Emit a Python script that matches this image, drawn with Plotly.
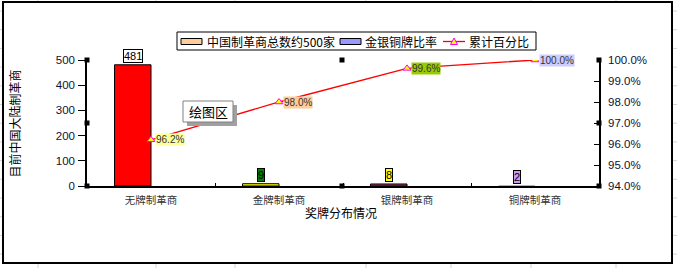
import plotly.graph_objects as go

# ---- data ----
categories = ["无牌制革商", "金牌制革商", "银牌制革商", "铜牌制革商"]
maker_counts = [481, 9, 8, 2]            # 中国制革商总数约500家
medal_ratio = [None, None, None, None]   # 金银铜牌比率 (no bars drawn)
cumulative_pct = [0.962, 0.980, 0.996, 1.000]
pct_labels = ["96.2%", "98.0%", "99.6%", "100.0%"]
left_ticks = [0, 100, 200, 300, 400, 500]
right_ticks = [0.94, 0.95, 0.96, 0.97, 0.98, 0.99, 1.00]

series_names = ["中国制革商总数约500家", "金银铜牌比率", "累计百分比"]
x_title = "奖牌分布情况"
y_title = "目前中国大陆制革商"

# ---- styles ----
bar_colors = ["#ff0000", "#ffff00", "#993366", "#cc99ff"]
bar_edge_widths = [1, 1, 1, 0]
count_label_bg = ["#ffffff", "#008000", "#ffff00", "#cc99ff"]
count_label_border = ["#000000", "#000000", "#000000", "#000000"]
pct_label_bg = ["#ffff99", "#ffcc99", "#99cc00", "#ccccff"]
legend_fill = ["#ffcc99", "#9999ff"]

W, H = 677, 268
PL, PR, PT, PB = 87, 599, 60, 186      # plot area in pixels
BARGAP = 0.43

FONT = "Liberation Sans, Arial, Noto Sans CJK SC, sans-serif"
CJK = "Noto Sans CJK SC, Liberation Sans, sans-serif"


def px(x):
    return (x - PL) / (PR - PL)


def py(y):
    return (PB - y) / (PB - PT)


fig = go.Figure()

fig.add_trace(go.Bar(
    x=categories, y=maker_counts, name=series_names[0],
    marker=dict(color=bar_colors, line=dict(color="#000000", width=bar_edge_widths)),
    showlegend=False, hoverinfo="x+y",
))
fig.add_trace(go.Bar(
    x=categories, y=medal_ratio, name=series_names[1],
    marker=dict(color=legend_fill[1], line=dict(color="#000000", width=1)),
    showlegend=False,
))
fig.add_trace(go.Scatter(
    x=categories, y=cumulative_pct, name=series_names[2], yaxis="y2",
    mode="lines+markers",
    line=dict(color="#ff0000", width=1.3),
    marker=dict(symbol="triangle-up", size=7, color="#ffff00",
                line=dict(color="#ff00ff", width=1)),
    showlegend=False,
))

annotations = []
shapes = []

# value labels above the first bar of each group
cat_px = (PR - PL) / len(categories)
bar_px = cat_px * (1 - BARGAP) / 2
for c, v, bg, bd in zip(categories, maker_counts, count_label_bg, count_label_border):
    annotations.append(dict(
        x=c, y=v, xref="x", yref="y", xshift=-bar_px / 2, yshift=2,
        text=str(v), showarrow=False, xanchor="center", yanchor="bottom",
        font=dict(family=FONT, size=11, color="#000000"),
        bgcolor=bg, bordercolor=bd, borderwidth=1, borderpad=0,
    ))

# cumulative percentage labels
for c, v, t, bg in zip(categories, cumulative_pct, pct_labels, pct_label_bg):
    annotations.append(dict(
        x=c, y=v, xref="x", yref="y2", xshift=4,
        text=t, showarrow=False, xanchor="left", yanchor="middle",
        font=dict(family=FONT, size=10, color="#333333"),
        bgcolor=bg, borderpad=0,
    ))

# axis titles
annotations.append(dict(
    x=px(14), y=py(123.5), xref="paper", yref="paper", text=y_title,
    textangle=-90, showarrow=False, xanchor="center", yanchor="middle",
    font=dict(family=CJK, size=12, color="#000000"),
))
annotations.append(dict(
    x=px(340.5), y=py(212), xref="paper", yref="paper", text=x_title,
    showarrow=False, xanchor="center", yanchor="middle",
    font=dict(family=CJK, size=12, color="#000000"),
))

# spreadsheet grid behind the chart object
grid = "#d4d4d4"
for gx in [38, 156, 235, 366, 451, 531, 616]:
    shapes.append(dict(type="line", xref="paper", yref="paper", layer="below",
                       x0=px(gx), x1=px(gx), y0=py(0), y1=py(H),
                       line=dict(color=grid, width=1)))
gy = 11.0
while gy < H:
    shapes.append(dict(type="line", xref="paper", yref="paper", layer="below",
                       x0=px(0), x1=px(W), y0=py(gy), y1=py(gy),
                       line=dict(color=grid, width=1)))
    gy += 18.7

# chart area frame
shapes.append(dict(type="rect", xref="paper", yref="paper", layer="below",
                   x0=px(3), x1=px(672), y0=py(2), y1=py(263),
                   fillcolor="#ffffff", line=dict(color="#000000", width=2)))

# legend box
shapes.append(dict(type="rect", xref="paper", yref="paper",
                   x0=px(177), x1=px(536), y0=py(32), y1=py(50),
                   fillcolor="#ffffff", line=dict(color="#000000", width=1)))
shapes.append(dict(type="rect", xref="paper", yref="paper",
                   x0=px(181), x1=px(202), y0=py(38.5), y1=py(44.5),
                   fillcolor=legend_fill[0], line=dict(color="#000000", width=1)))
shapes.append(dict(type="rect", xref="paper", yref="paper",
                   x0=px(340), x1=px(361), y0=py(38.5), y1=py(44.5),
                   fillcolor=legend_fill[1], line=dict(color="#000000", width=1)))
shapes.append(dict(type="line", xref="paper", yref="paper",
                   x0=px(443), x1=px(465), y0=py(41.5), y1=py(41.5),
                   line=dict(color="#ff0000", width=1.3)))
tx, ty = 454, 41.5
shapes.append(dict(type="path", xref="paper", yref="paper",
                   path=f"M {px(tx-3.5)} {py(ty+3)} L {px(tx+3.5)} {py(ty+3)} L {px(tx)} {py(ty-3.5)} Z",
                   fillcolor="#ffff00", line=dict(color="#ff00ff", width=1)))
for x0, t in [(205, series_names[0]), (363, series_names[1]), (467, series_names[2])]:
    annotations.append(dict(
        x=px(x0), y=py(41), xref="paper", yref="paper", text=t,
        showarrow=False, xanchor="left", yanchor="middle",
        font=dict(family=CJK, size=12, color="#000000"),
    ))

# plot area selection handles
for hx, hy in [(87, 60), (87, 123), (87, 186), (342, 60), (342, 186),
               (599, 60), (599, 123), (599, 186)]:
    shapes.append(dict(type="rect", xref="paper", yref="paper",
                       x0=px(hx - 2.5), x1=px(hx + 2.5), y0=py(hy - 2.5), y1=py(hy + 2.5),
                       fillcolor="#000000", line=dict(width=0)))

# "绘图区" tooltip with drop shadow
shapes.append(dict(type="rect", xref="paper", yref="paper",
                   x0=px(187), x1=px(237), y0=py(105), y1=py(126),
                   fillcolor="#a0a0a0", line=dict(width=0)))
shapes.append(dict(type="rect", xref="paper", yref="paper",
                   x0=px(183), x1=px(233), y0=py(101), y1=py(122),
                   fillcolor="#ffffff", line=dict(color="#808080", width=1)))
annotations.append(dict(
    x=px(208), y=py(111.5), xref="paper", yref="paper", text="绘图区",
    showarrow=False, xanchor="center", yanchor="middle",
    font=dict(family=CJK, size=13, color="#000000"),
))

fig.update_layout(
    width=W, height=H,
    margin=dict(l=PL, r=W - PR, t=PT, b=H - PB, pad=0),
    paper_bgcolor="#ffffff", plot_bgcolor="rgba(0,0,0,0)",
    barmode="group", bargap=BARGAP, bargroupgap=0,
    showlegend=False,
    font=dict(family=FONT, size=11, color="#000000"),
    xaxis=dict(
        type="category", categoryorder="array", categoryarray=categories,
        showline=True, linecolor="#000000", linewidth=1.5,
        ticks="inside", ticklen=3, tickcolor="#000000", tickson="boundaries",
        showgrid=False, zeroline=False,
        tickfont=dict(family=CJK, size=10.5, color="#333333"),
        ticklabelstandoff=4,
    ),
    yaxis=dict(
        range=[0, 500], tickvals=left_ticks,
        showline=True, linecolor="#000000", linewidth=1.5,
        ticks="outside", ticklen=7, tickcolor="#000000",
        showgrid=False, zeroline=False,
        tickfont=dict(family=FONT, size=11.5, color="#111133"),
        ticklabelstandoff=1,
    ),
    yaxis2=dict(
        range=[0.94, 1.0], tickvals=right_ticks, tickformat=".1%",
        overlaying="y", side="right", anchor="x",
        showline=True, linecolor="#000000", linewidth=1.5,
        ticks="inside", ticklen=5, tickcolor="#000000",
        showgrid=False, zeroline=False,
        tickfont=dict(family=FONT, size=11.5, color="#111133"),
        ticklabelstandoff=5,
    ),
    shapes=shapes, annotations=annotations,
)

fig.write_html("out.html")
